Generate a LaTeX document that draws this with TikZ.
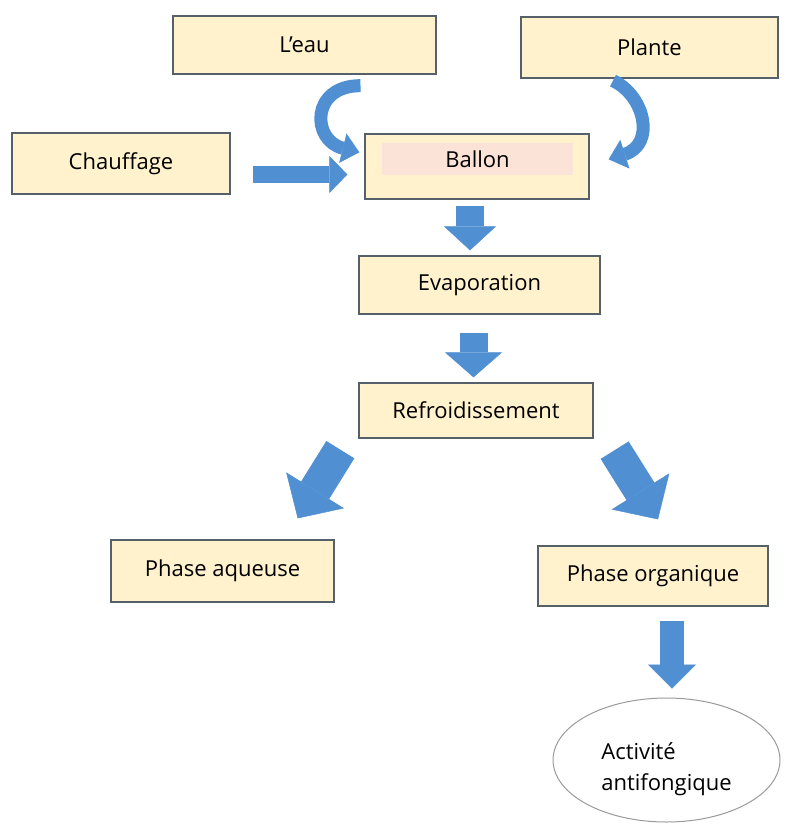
\documentclass[tikz,border=0pt]{standalone}
\usepackage{fontspec}
\setmainfont{Open Sans}
\usetikzlibrary{arrows.meta,calc,shapes.geometric}
\definecolor{boxfill}{HTML}{FFF2CC}
\definecolor{boxline}{HTML}{56606B}
\definecolor{ballonpink}{HTML}{FBE3D8}
\definecolor{arrowblue}{HTML}{4F8FD2}
\definecolor{ovalline}{HTML}{9A9A9A}

\begin{document}
\begin{tikzpicture}[x=1pt,y=-1pt,
    box/.style={rectangle,draw=boxline,line width=1.3pt,fill=boxfill,inner sep=0pt,font=\fontsize{22}{26}\selectfont},
    blockarrow/.style n args={3}{draw=arrowblue,line width=#1pt,-{Triangle[width=#2pt,length=#3pt,line width=0.5pt]}},
    curvearrow/.style={draw=arrowblue,line width=13pt,-{Triangle[width=30pt,length=17pt,line width=0.5pt]}}]
\useasboundingbox (0,0) rectangle (799,825);

\node[box,minimum width=263pt,minimum height=58pt] (eau) at (304.5,45) {L’eau};
\node[box,minimum width=257pt,minimum height=61pt] (plante) at (649.5,47.5) {Plante};
\node[box,minimum width=218pt,minimum height=61pt] (chauffage) at (121,163.5) {Chauffage};
\node[box,minimum width=224pt,minimum height=65pt] (ballon) at (477,166.5) {};
\node[fill=ballonpink,inner sep=0pt,minimum width=191pt,minimum height=32pt,font=\fontsize{22}{26}\selectfont] (ballontext) at (477.5,159) {Ballon};
\node[box,minimum width=241pt,minimum height=58pt] (evap) at (479.5,285) {Evaporation};
\node[box,minimum width=234pt,minimum height=55pt] (refroid) at (476,410.5) {Refroidissement};
\node[box,minimum width=223pt,minimum height=62pt] (aqueuse) at (222.5,571) {Phase aqueuse};
\node[box,minimum width=230pt,minimum height=60pt] (organique) at (653,576) {Phase organique};
\node[ellipse,draw=ovalline,line width=1pt,fill=white,minimum width=227pt,minimum height=124pt,align=left,font=\fontsize{22}{31}\selectfont] (activite) at (666.5,760) {\rule{0pt}{36pt}Activité\\antifongique};

% entrees du ballon
\draw[curvearrow] ($(eau.south)+(56,11)$) .. controls +(-50,0) and +(-48,-12) .. ($(ballon.north west)+(-5,19)$);
\draw[curvearrow] ($(plante.south)+(-36.5,2)$) .. controls +(32,15) and +(47,-15) .. ($(ballon.north east)+(19,26)$);
\draw[blockarrow={17}{37}{18}] ($(chauffage.east)+(22,11)$) -- ($(ballon.west)+(-17,8)$);

% suite du procede
\draw[blockarrow={28}{52}{24}] ($(ballon.south)+(-7,6)$) -- ($(evap.north)+(-9.5,-5)$);
\draw[blockarrow={28}{57}{25}] ($(evap.south)+(-6,18)$) -- ($(refroid.north)+(-2.5,-5)$);
\draw[blockarrow={33}{68}{33}] ($(refroid.south west)+(-18,11)$) -- ($(aqueuse.north east)+(-37,-21)$);
\draw[blockarrow={33}{68}{33}] ($(refroid.south east)+(21,11.5)$) -- ($(organique.north)+(5,-26)$);
\draw[blockarrow={24}{48}{24}] ($(organique.south)+(19,14)$) -- ($(activite.north)+(5.5,-9)$);
\end{tikzpicture}
\end{document}
